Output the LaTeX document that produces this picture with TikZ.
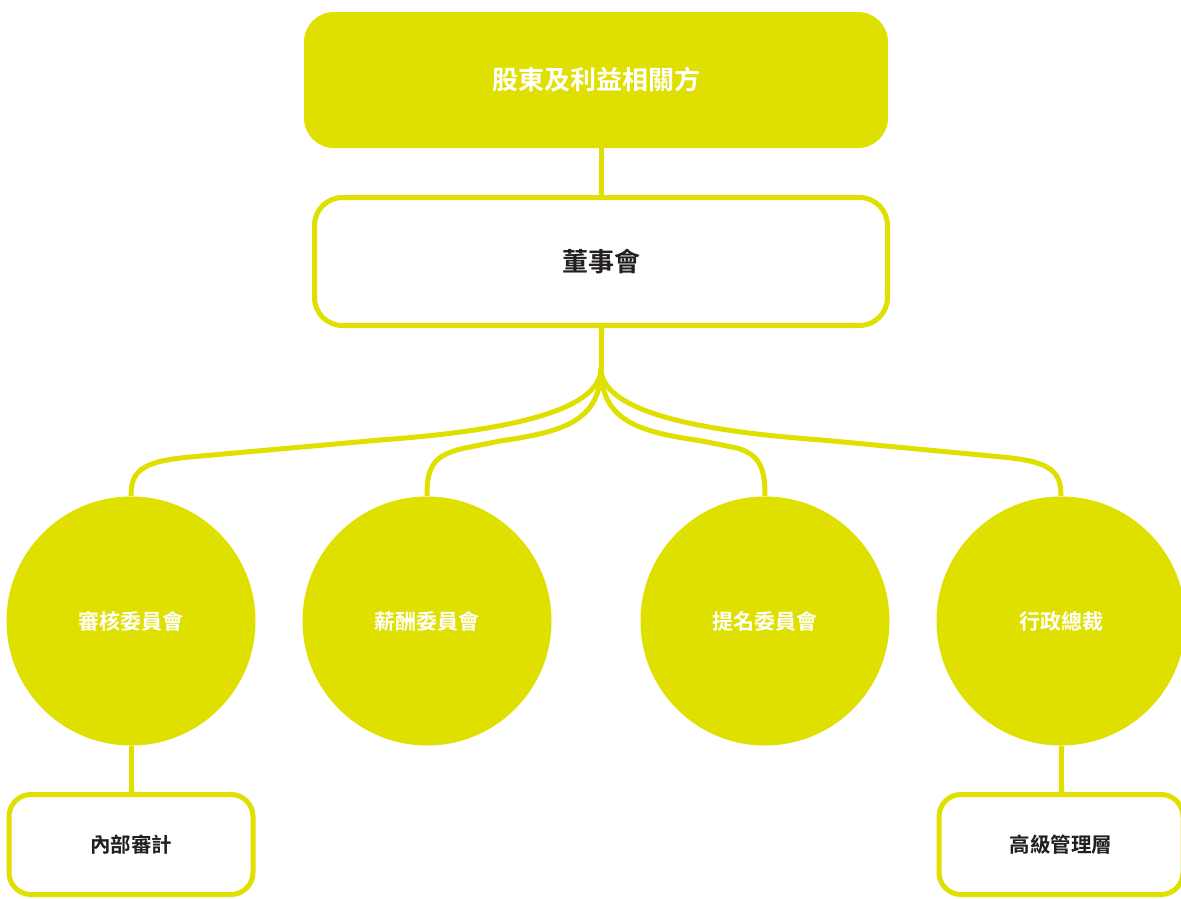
\documentclass[tikz,border=0pt]{standalone}
\usepackage{fontspec}
\newfontfamily\cjkb{Noto Sans CJK TC Bold}
\definecolor{lime}{RGB}{223,224,0}
\definecolor{ink}{RGB}{35,31,32}
\newcommand{\dn}[1]{\raisebox{-2pt}{#1}}
\tikzset{
  conn/.style={draw=lime, line width=5pt},
  topbox/.style={rectangle, rounded corners=30pt, fill=lime, inner sep=0pt, text=white, font=\cjkb\fontsize{26}{30}\selectfont},
  outbox/.style={rectangle, rounded corners=28pt, draw=lime, line width=5pt, fill=white, inner sep=0pt, text=ink},
  circ/.style={circle, fill=lime, inner sep=0pt, minimum size=249pt, text=white, font=\cjkb\fontsize{21}{25}\selectfont},
  small/.style={font=\cjkb\fontsize{20.5}{24}\selectfont},
}
\begin{document}
\begin{tikzpicture}[x=1pt,y=-1pt]
\useasboundingbox (0,0) rectangle (1181,898);
\node[topbox, minimum width=584pt, minimum height=136pt] (top) at (596,80) {\dn{股東及利益相關方}};
\node[outbox, minimum width=573pt, minimum height=128pt, font=\cjkb\fontsize{26}{30}\selectfont] (board) at (601,261.5) {\dn{董事會}};
\node[circ] (c1) at (131,621) {審核委員會};
\node[circ] (c2) at (427,621) {薪酬委員會};
\node[circ] (c3) at (765,621) {提名委員會};
\node[circ] (c4) at (1061,621) {行政總裁};
\node[outbox, small, rounded corners=22pt, minimum width=244pt, minimum height=100pt] (b1) at (131,844.5) {\dn{內部審計}};
\node[outbox, small, rounded corners=22pt, minimum width=244pt, minimum height=100pt] (b2) at (1061,844.5) {\dn{高級管理層}};
\coordinate (j) at (601,368);
\draw[conn] (board.north |- top.south) -- (board.north);
\draw[conn] (board.south) -- (j);
\draw[conn] (j) .. controls +(0,40) and (520,430) .. (380,440) -- (190,457) .. controls (140,461.5) and (131,472) .. (c1.north);
\draw[conn] (j) .. controls +(0,55) and (560,432) .. (500,441) -- (465,448) .. controls (432,455) and (427,468) .. (c2.north);
\draw[conn] (j) .. controls +(0,55) and (642,432) .. (702,441) -- (737,448) .. controls (760,455) and (765,468) .. (c3.north);
\draw[conn] (j) .. controls +(0,40) and (682,430) .. (822,440) -- (1002,457) .. controls (1052,461.5) and (1061,472) .. (c4.north);
\draw[conn] (c1.south) -- (b1.north);
\draw[conn] (c4.south) -- (b2.north);
\end{tikzpicture}
\end{document}
